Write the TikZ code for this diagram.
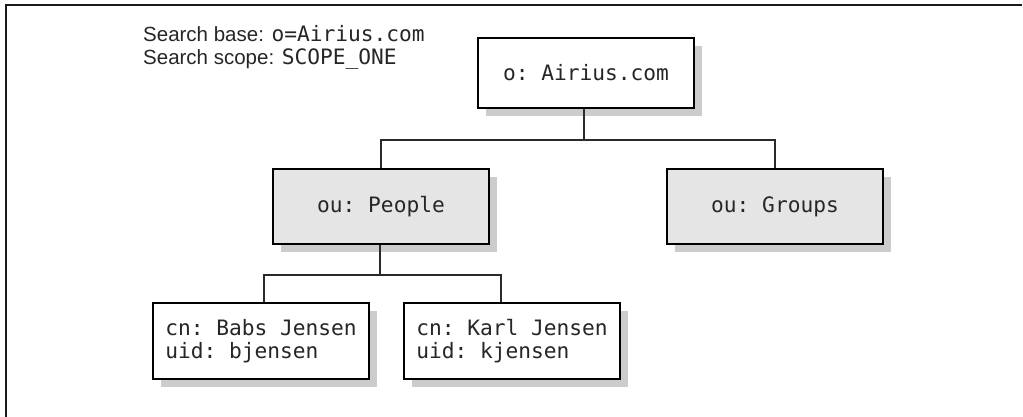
\documentclass[tikz,border=0pt]{standalone}
\usepackage{fontspec}
\setmainfont{Liberation Sans}
\setmonofont{DejaVu Sans Mono}
\usetikzlibrary{shadows}
\definecolor{shadecol}{HTML}{CCCCCC}
\definecolor{boxfill}{HTML}{E5E5E5}
\definecolor{linecol}{HTML}{2A2A2A}
\begin{document}
\begin{tikzpicture}[x=1pt,y=-1pt,
  entry/.style={draw=black, line width=2pt, minimum width=216pt, inner sep=0pt,
    align=left, font=\ttfamily\fontsize{21.2}{23}\selectfont, text=black!85,
    drop shadow={shadow xshift=8pt, shadow yshift=-8pt, fill=shadecol, opacity=1}},
  whitebox/.style={entry, fill=white},
  greybox/.style={entry, fill=boxfill},
  conn/.style={draw=linecol, line width=1.3pt}]
\useasboundingbox (0,0) rectangle (1023,417);
\fill[white] (0,0) rectangle (1023,417);
% frame
\draw[line width=2pt, draw=black!90] (6,417) -- (6,5) -- (1022,5);
% caption
\node[anchor=base west, align=left, inner sep=0pt, font=\fontsize{20.5}{23}\selectfont, text=black!85] (caption) at (143,65)
  {Search base: {\ttfamily\fontsize{21.2}{23}\selectfont o=Airius.com}\\Search scope: {\ttfamily\fontsize{21.2}{23}\selectfont SCOPE\_ONE}};
% entries
\node[whitebox, minimum height=70pt] (root) at (586,73) {o: Airius.com};
\node[greybox, minimum height=75pt] (people) at (381,206.5) {ou: People};
\node[greybox, minimum height=75pt] (groups) at (775,206.5) {ou: Groups};
\node[whitebox, minimum height=76pt] (babs) at (261,341) {cn: Babs Jensen\\uid: bjensen};
\node[whitebox, minimum height=76pt] (karl) at (512,341) {cn: Karl Jensen\\uid: kjensen};
% junctions
\coordinate (j1) at (584,140);
\coordinate (j2) at (380,275);
\coordinate (bx) at (264,0);
\coordinate (kx) at (501,0);
% connectors
\draw[conn] (root.south -| j1) -- (j1);
\draw[conn] (people.north) |- (j1) -| (groups.north);
\draw[conn] (people.south -| j2) -- (j2);
\draw[conn] (babs.north -| bx) |- (j2) -| (karl.north -| kx);
\end{tikzpicture}
\end{document}
